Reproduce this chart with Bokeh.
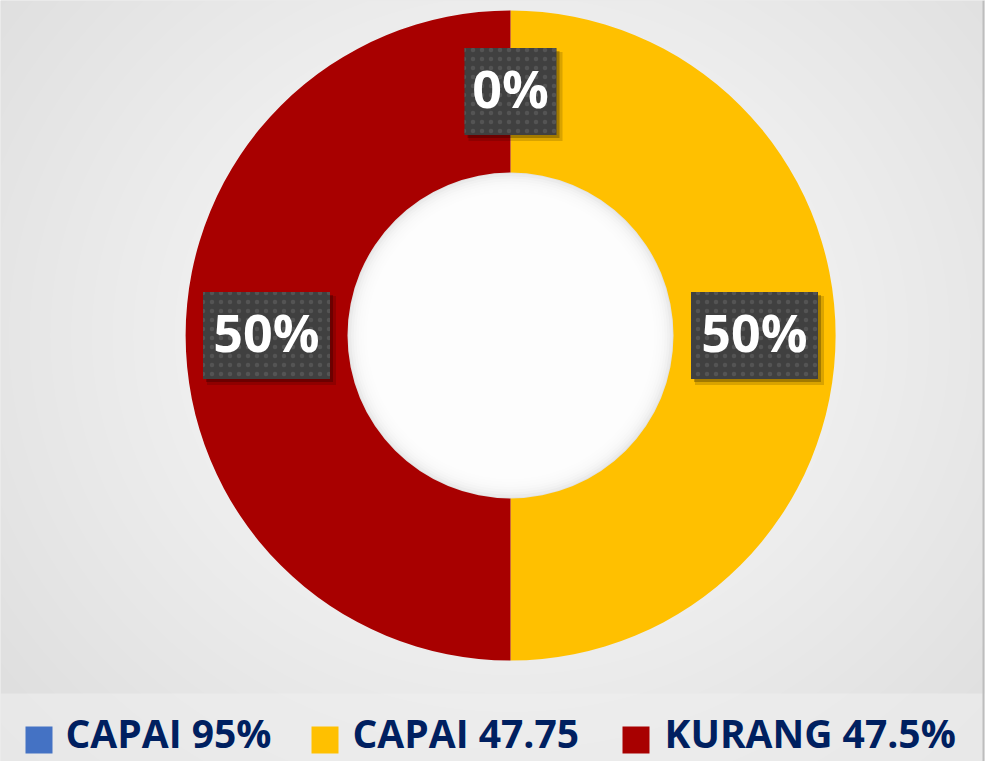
import numpy as np
from bokeh.plotting import figure
from bokeh.models import Range1d, ColumnDataSource
from bokeh.core.properties import value
from bokeh.embed import file_html
from bokeh.resources import INLINE

# ---- data ----
categories = ["CAPAI 95%", "CAPAI 47.75", "KURANG 47.5%"]
values = [0, 50, 50]
colors = ["#4472C4", "#FFC000", "#A80000"]

# ---- layout (page pixel space: data y = 761 - page y) ----
W, H = 985, 761
def Y(py):
    return H - py

p = figure(width=W, height=H,
           x_range=Range1d(0, W), y_range=Range1d(0, H),
           output_backend="svg", toolbar_location=None, min_border=0,
           x_axis_location=None, y_axis_location=None,
           background_fill_color="#d6d6d6", border_fill_color="#d6d6d6",
           outline_line_color=None)
p.grid.visible = False

cx, cy = 510, Y(335)

# soft radial background
n = 30
rx = np.linspace(1500, 300, n)
p.ellipse(x=[cx] * n, y=[cy] * n, width=rx, height=rx * 0.9,
          fill_color="white", fill_alpha=0.055, line_color=None)

# legend band
p.quad(left=[0], right=[W], bottom=[Y(761)], top=[Y(693)],
       fill_color="#eeeeee", fill_alpha=0.6, line_color=None)

# ---- donut ----
r_in, r_out = 163, 325
vals = np.array(values, dtype=float)
frac = vals / vals.sum()
cum_after = np.cumsum(frac)
cum_before = cum_after - frac
start = np.pi / 2 - 2 * np.pi * cum_before
end = np.pi / 2 - 2 * np.pi * cum_after
mid = (start + end) / 2

# hole with soft inner shade
p.circle(x=[cx], y=[cy], radius=r_in + 1, fill_color="#e2e2e2", line_color=None)
m = 10
rr = np.linspace(r_in - 1, r_in - 24, m)
p.circle(x=[cx] * m, y=[cy] * m, radius=rr, fill_color="white", fill_alpha=0.3, line_color=None)

keep = vals > 0
src = ColumnDataSource(dict(start=start[keep], end=end[keep], color=[c for c, k in zip(colors, keep) if k]))
p.annular_wedge(x=cx, y=cy, inner_radius=r_in, outer_radius=r_out,
                start_angle="start", end_angle="end", direction="clock",
                fill_color="color", line_color=None, source=src)

# ---- data labels ----
labels = ["%d%%" % round(f * 100) for f in frac]
r_lab = (r_in + r_out) / 2
lx = cx + r_lab * np.cos(mid)
ly = cy + r_lab * np.sin(mid)
bw = np.array([22 + 35 * len(t) for t in labels], dtype=float)
bh = 87
p.rect(x=lx + 5, y=ly - 5, width=bw + 2, height=bh + 2, fill_color="black", fill_alpha=0.15, line_color=None)
p.rect(x=lx + 3, y=ly - 3, width=bw, height=bh, fill_color="black", fill_alpha=0.25, line_color=None)
p.rect(x=lx, y=ly, width=bw, height=bh, fill_color="#404040", line_color=None,
       hatch_pattern="dot", hatch_color="#595959", hatch_scale=9, hatch_alpha=0.8)
p.text(x=lx, y=ly + 4, text=labels, text_align="center", text_baseline="middle",
       text_font=value("Open Sans"), text_font_style="bold", text_font_size="52px",
       text_color="white")

# ---- legend ----
sq_x = [25, 311, 622]
tx = [65, 352, 664]
sq = 27
p.rect(x=[x + sq / 2 for x in sq_x], y=[Y(726 + sq / 2)] * 3, width=sq, height=sq,
       fill_color=colors, line_color=None)
p.text(x=tx, y=[Y(732)] * 3, text=categories, text_align="left", text_baseline="middle",
       text_font=value("Open Sans"), text_font_style="bold", text_font_size="39px",
       text_color="#002060")

# right edge line and white strip beyond
p.quad(left=[984], right=[W], bottom=[0], top=[H], fill_color="white", line_color=None)
p.segment(x0=[983], x1=[983], y0=[0], y1=[H], line_color="#bdbdbd", line_width=2)

open("out.html", "w").write(file_html(p, INLINE))
